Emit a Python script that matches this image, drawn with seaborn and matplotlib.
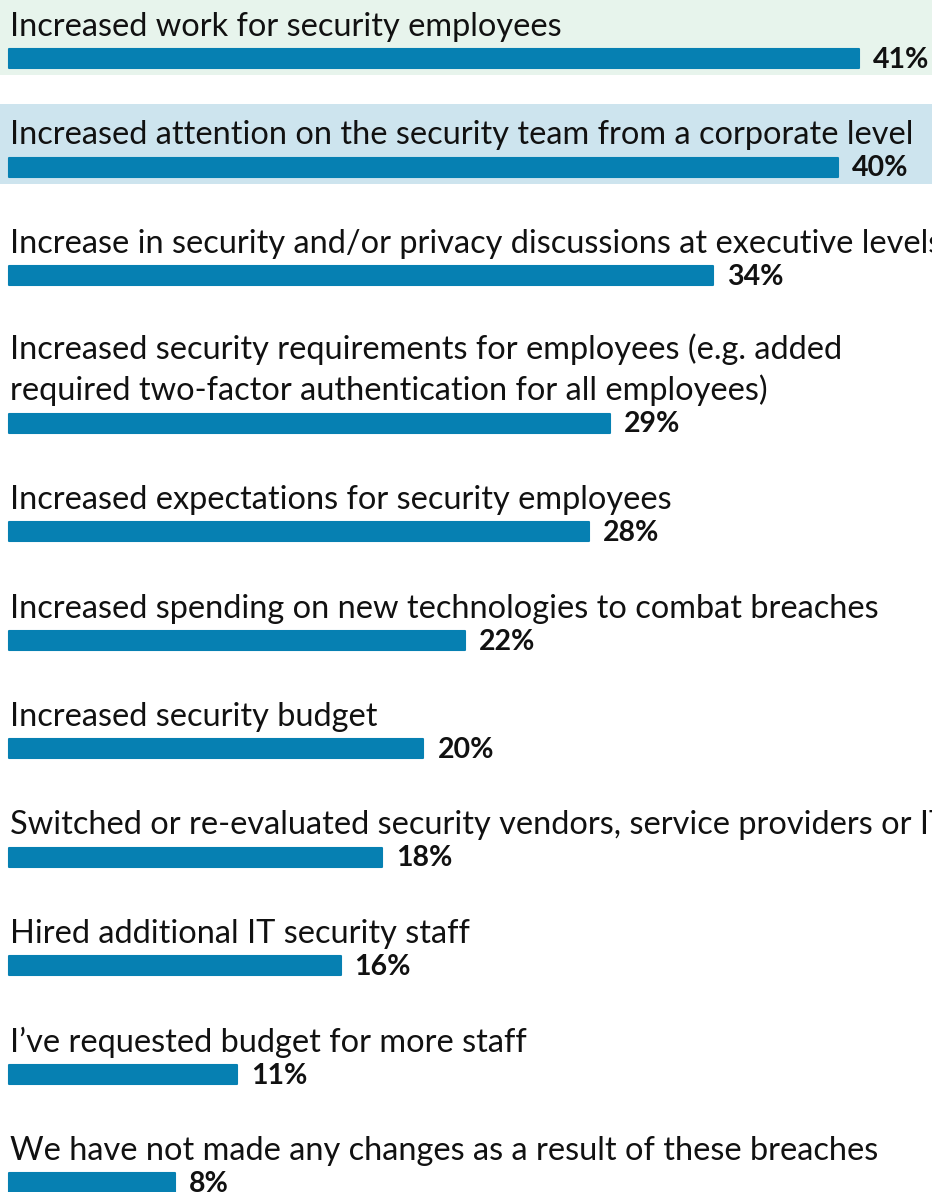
import matplotlib
matplotlib.use("Agg")
import matplotlib.pyplot as plt
import seaborn as sns
import pandas as pd

# ---------------- data ----------------
categories = [
    "Increased work for security employees",
    "Increased attention on the security team from a corporate level",
    "Increase in security and/or privacy discussions at executive levels",
    "Increased security requirements for employees (e.g. added\nrequired two-factor authentication for all employees)",
    "Increased expectations for security employees",
    "Increased spending on new technologies to combat breaches",
    "Increased security budget",
    "Switched or re-evaluated security vendors, service providers or IT",
    "Hired additional IT security staff",
    "I\u2019ve requested budget for more staff",
    "We have not made any changes as a result of these breaches",
]
values = [41, 40, 34, 29, 28, 22, 20, 18, 16, 11, 8]
value_labels = [f"{v}%" for v in values]
highlight = ["#E7F4EC", "#CDE4EE", None, None, None, None, None, None, None, None, None]

# ---------------- style / layout ----------------
sns.set_style("white")
plt.rcParams["font.family"] = ["Lato", "DejaVu Sans"]

W, H = 932, 1192
BAR_COLOR = "#0680B2"
PX_PER_UNIT = 20.72          # pixels per percentage point
X0_PX = 9                    # left edge of bars in pixels
ROW_PITCH = 108.5
LINE_STEP = 39
FIRST_CENTER = 58.5
BAR_H = 19                   # core bar height (px), plus rounded edge
FS = 23.4
FS_VAL = 20.5

positions = []
y = FIRST_CENTER
for i, c in enumerate(categories):
    if i > 0:
        y += ROW_PITCH + LINE_STEP * c.count("\n")
    positions.append(y)

df = pd.DataFrame({"label": categories, "value": values, "pos": positions})

fig = plt.figure(figsize=(W / 100, H / 100), dpi=100)
fig.patch.set_facecolor("white")
ax = fig.add_axes([0, 0, 1, 1])

min_gap = min(b - a for a, b in zip(positions[:-1], positions[1:]))
sns.barplot(data=df, x="value", y="pos", orient="h", native_scale=True,
            width=BAR_H / min_gap, color=BAR_COLOR, saturation=1,
            ax=ax, zorder=3)

# rounded corners via a same-colour round-joined edge
for p in ax.patches:
    p.set_edgecolor(BAR_COLOR)
    p.set_linewidth(1.5)
    p.set_joinstyle("round")

ax.set_xlim(-X0_PX / PX_PER_UNIT, (W - X0_PX) / PX_PER_UNIT)
ax.set_ylim(H, 0)
ax.axis("off")

# highlighted bands
for pos, col in zip(positions, highlight):
    if col:
        ax.axhspan(pos - BAR_H / 2 - 54, pos + BAR_H / 2 + 7, color=col, zorder=0, lw=0)

# category labels above bars (baseline of last line 12 px above bar)
for pos, lab in zip(positions, categories):
    base = pos - 10.5 - 12
    ax.text(0.05, base, lab, ha="left", va="baseline", fontsize=FS,
            color="#111111", linespacing=1.37, zorder=4)

# value labels
for pos, v, vl in zip(positions, values, value_labels):
    ax.text(v + 14 / PX_PER_UNIT, pos + 9.5, vl, ha="left", va="baseline",
            fontsize=FS_VAL, fontweight="bold", color="#111111", zorder=4)

fig.savefig("out.png", dpi=100, facecolor="white")
